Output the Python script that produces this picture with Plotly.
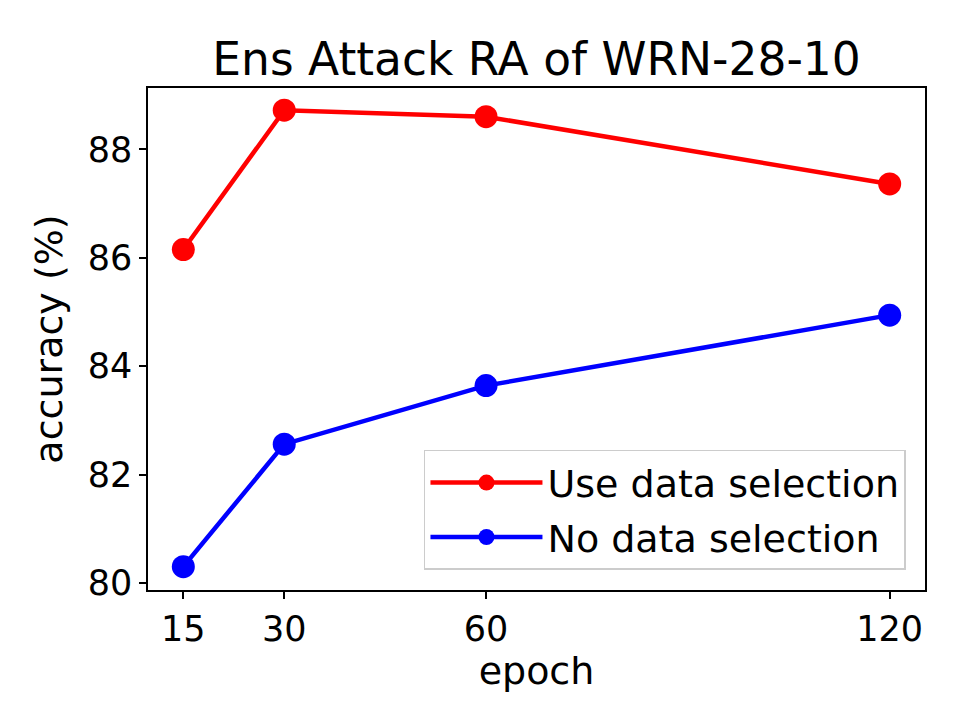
import plotly.graph_objects as go

epochs = [15, 30, 60, 120]
use_selection = [86.15, 88.72, 88.60, 87.36]
no_selection = [80.30, 82.56, 83.64, 84.94]
x_ticks = [15, 30, 60, 120]
y_ticks = [80, 82, 84, 86, 88]

FONT = "DejaVu Sans"

fig = go.Figure()
fig.add_trace(go.Scatter(
    x=epochs, y=use_selection, name="Use data selection",
    mode="lines+markers", legendgroup="a",
    line=dict(color="#ff0000", width=4.5),
    marker=dict(color="#ff0000", size=23),
))
fig.add_trace(go.Scatter(
    x=epochs, y=no_selection, name="No data selection",
    mode="lines+markers", legendgroup="b",
    line=dict(color="#0000ff", width=4.5),
    marker=dict(color="#0000ff", size=23),
))

axis_common = dict(
    showgrid=False, zeroline=False, showline=True, linecolor="black",
    linewidth=1.5, mirror=True, ticks="outside", ticklen=7, tickwidth=1.5,
    tickcolor="black", tickfont=dict(family=FONT, size=35, color="black"),
)

fig.update_xaxes(
    range=[9.75, 125.25], tickvals=x_ticks,
    title=dict(text="epoch", font=dict(family=FONT, size=38, color="black"), standoff=0),
    **axis_common,
)
fig.update_yaxes(
    range=[79.87, 89.13], tickvals=y_ticks,
    title=dict(text="accuracy (%)", font=dict(family=FONT, size=38, color="black"), standoff=13),
    **axis_common,
)

# the page body adds an 8px offset, margins compensate for it
fig.update_layout(
    width=968, height=726,
    margin=dict(l=140, r=51, t=80, b=144),
    paper_bgcolor="white", plot_bgcolor="white",
    title=dict(
        text="Ens Attack RA of WRN-28-10",
        font=dict(family=FONT, size=45.5, color="black"),
        x=0.546, xanchor="center", xref="container",
        y=1 - 51 / 726, yanchor="middle", yref="container",
    ),
    legend=dict(
        x=0.9755, xanchor="right", y=0.04, yanchor="bottom",
        bgcolor="white", bordercolor="#cccccc", borderwidth=1.5,
        font=dict(family=FONT, size=38, color="black"),
        tracegroupgap=2, itemwidth=112,
    ),
    showlegend=True,
)

fig.write_html("out.html")
